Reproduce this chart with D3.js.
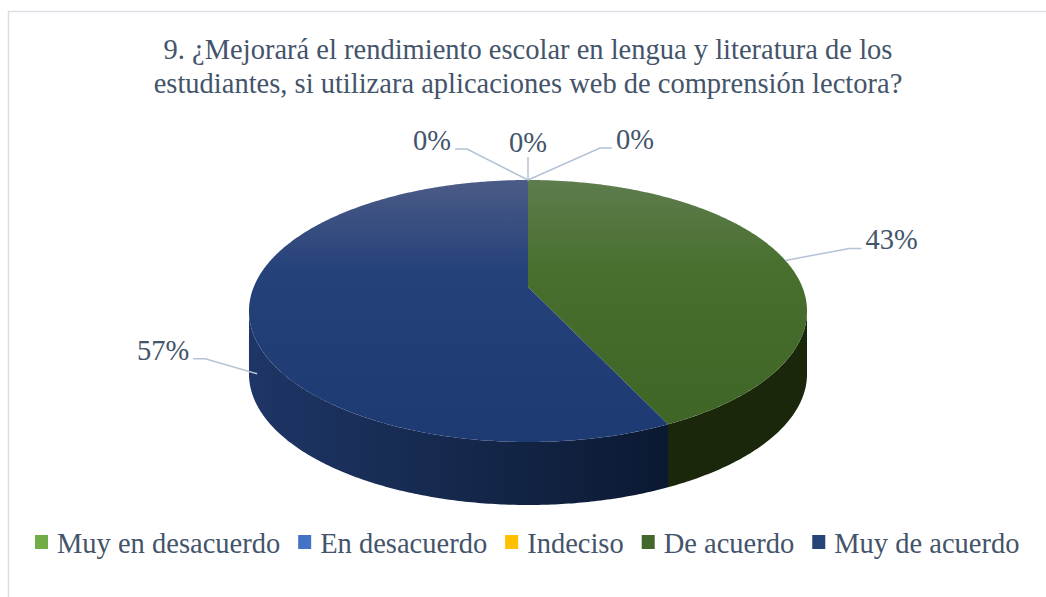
<!DOCTYPE html>
<html>
<head>
<meta charset="utf-8">
<script src="https://cdn.jsdelivr.net/npm/d3@7"></script>
<style>
  html, body { margin: 0; padding: 0; background: #ffffff; }
  svg { display: block; }
</style>
</head>
<body>
<svg id="chart" width="1046" height="597"></svg>
<script>
// ---- data ----
const titleLines = [
  "9. ¿Mejorará el rendimiento escolar en lengua y literatura de los",
  "estudiantes, si utilizara aplicaciones web de comprensión lectora?"
];
const categories = ["Muy en desacuerdo", "En desacuerdo", "Indeciso", "De acuerdo", "Muy de acuerdo"];
const values = [0, 0, 0, 43, 57];
const legendColors = ["#70ad47", "#4472c4", "#ffc000", "#43682b", "#264478"];

// ---- layout ----
const W = 1046, H = 597;
const FONT = '"Liberation Serif"';
const svg = d3.select("#chart");
const FS = 28.5;
const TXT = "#44546a";

// frame
svg.append("rect").attr("x", 8.5).attr("y", 11.5).attr("width", W).attr("height", H)
  .attr("fill", "none").attr("stroke", "#dadfe6").attr("stroke-width", 1.5);

// title
svg.append("g").selectAll("text").data(titleLines).join("text")
  .attr("x", 528).attr("y", (d, i) => 59 + i * 34)
  .attr("text-anchor", "middle").attr("font-size", FS).style("font-family", FONT)
  .attr("fill", TXT).text(d => d);

// perspective pie geometry
const cx = 528, cy = 287, A = 274.3, B = 126.6, C = 0.1832, depth = 63;
function proj(phi) {
  const den = 1 + C * Math.cos(phi);
  return [cx + A * Math.sin(phi) / den, cy - B * Math.cos(phi) / den];
}
const pie = d3.pie().sort(null).value(d => d).startAngle(0).endAngle(2 * Math.PI);
const arcs = pie(values);

const defs = svg.append("defs");
const topGrads = {
  3: [["0", "#5e7c4e"], ["0.35", "#486f2e"], ["1", "#3e6425"]],
  4: [["0", "#4b5b86"], ["0.35", "#24417a"], ["1", "#1d3a72"]]
};
const sideGrads = {
  3: [["0", "#1f2e10"], ["1", "#1a270b"]],
  4: [["0", "#1e3566"], ["0.55", "#142749"], ["1", "#0b1831"]]
};
Object.entries(topGrads).forEach(([k, stops]) => {
  const g = defs.append("linearGradient").attr("id", "top" + k)
    .attr("gradientUnits", "userSpaceOnUse").attr("x1", 0).attr("x2", 0).attr("y1", 180).attr("y2", 442);
  stops.forEach(s => g.append("stop").attr("offset", s[0]).attr("stop-color", s[1]));
});
Object.entries(sideGrads).forEach(([k, stops]) => {
  const g = defs.append("linearGradient").attr("id", "side" + k)
    .attr("gradientUnits", "userSpaceOnUse").attr("x1", 250).attr("x2", 670).attr("y1", 0).attr("y2", 0);
  stops.forEach(s => g.append("stop").attr("offset", s[0]).attr("stop-color", s[1]));
});

const line = d3.line();
function sample(a0, a1) {
  const n = Math.max(2, Math.ceil((a1 - a0) / 0.01));
  return d3.range(n + 1).map(i => proj(a0 + (a1 - a0) * i / n));
}
const visL = Math.acos(-C), visR = 2 * Math.PI - Math.acos(-C);

const gPie = svg.append("g");
// sides
arcs.forEach((a, i) => {
  if (a.endAngle - a.startAngle <= 0) return;
  const s0 = Math.max(a.startAngle, visL), s1 = Math.min(a.endAngle, visR);
  if (s1 <= s0) return;
  const topPts = sample(s0, s1);
  const botPts = topPts.map(p => [p[0], p[1] + depth]).reverse();
  gPie.append("path").attr("d", line(topPts.concat(botPts)) + "Z")
    .attr("fill", sideGrads[i] ? `url(#side${i})` : legendColors[i]);
});
// tops
arcs.forEach((a, i) => {
  if (a.endAngle - a.startAngle <= 0) return;
  const pts = [[cx, cy]].concat(sample(a.startAngle, a.endAngle));
  gPie.append("path").attr("d", line(pts) + "Z")
    .attr("fill", topGrads[i] ? `url(#top${i})` : legendColors[i]);
});

// labels with leader lines
const labelLayout = [
  { dx: -61, dy: -31, dir: -1, sideDrop: 0, sideDx: 0 },
  { dx: 0, dy: -23, dir: 0, sideDrop: 0, sideDx: 0 },
  { dx: 72, dy: -32, dir: 1, sideDrop: 0, sideDx: 0 },
  { dx: 64, dy: -12, dir: 1, sideDrop: 0, sideDx: 0 },
  { dx: -52, dy: -15, dir: -1, sideDrop: 58, sideDx: 8 }
];
const total = d3.sum(values);
const gLab = svg.append("g");
arcs.forEach((a, i) => {
  const L = labelLayout[i];
  const mid = (a.startAngle + a.endAngle) / 2;
  const p = proj(mid);
  const anchor = [p[0] + L.sideDx, p[1] + L.sideDrop];
  const elbow = [anchor[0] + L.dx, anchor[1] + L.dy];
  const pts = [anchor, elbow];
  let tx, ty, ta;
  if (L.dir === 0) {
    tx = elbow[0]; ty = elbow[1] - 5; ta = "middle";
  } else {
    const end = [elbow[0] + L.dir * 12, elbow[1]];
    pts.push(end);
    tx = end[0] + L.dir * 4; ty = end[1] + 1; ta = L.dir < 0 ? "end" : "start";
  }
  gLab.append("path").attr("d", line(pts)).attr("fill", "none")
    .attr("stroke", "#b4c2d5").attr("stroke-width", 1.5);
  gLab.append("text").attr("x", tx).attr("y", ty).attr("text-anchor", ta)
    .attr("font-size", FS).style("font-family", FONT).attr("fill", TXT)
    .text(d3.format(".0%")(a.value / total));
});

// legend
const gLeg = svg.append("g");
let lx = 35;
categories.forEach((c, i) => {
  gLeg.append("rect").attr("x", lx).attr("y", 535).attr("width", 13).attr("height", 14)
    .attr("fill", legendColors[i]);
  const t = gLeg.append("text").attr("x", lx + 22).attr("y", 553).attr("font-size", FS)
    .style("font-family", FONT).attr("fill", TXT).text(c);
  lx += 22 + t.node().getComputedTextLength() + 18;
});
</script>
</body>
</html>
